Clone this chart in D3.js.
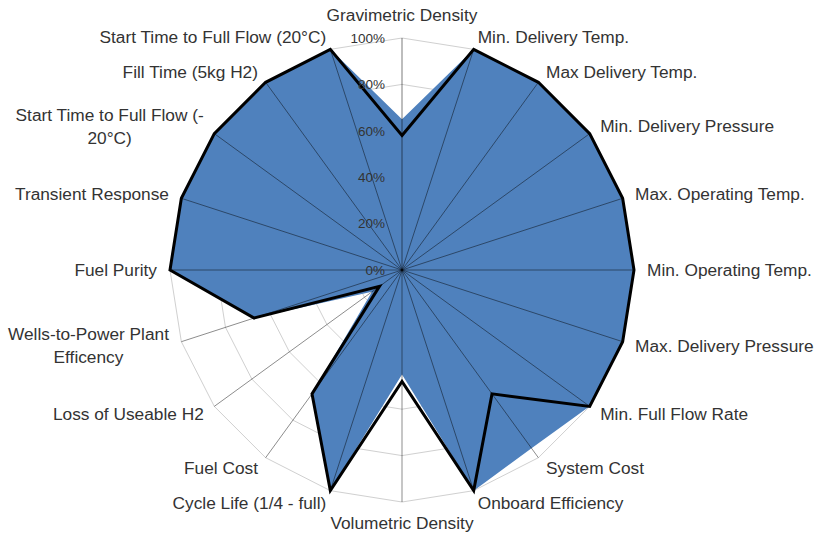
<!DOCTYPE html>
<html>
<head>
<meta charset="utf-8">
<script src="https://cdn.jsdelivr.net/npm/d3@7"></script>
<style>
  html, body { margin: 0; padding: 0; background: #fff; }
  svg { display: block; }
</style>
</head>
<body>
<svg id="chart" width="815" height="535"></svg>
<script>
const categories = [
  "Gravimetric Density",
  "Min. Delivery Temp.",
  "Max Delivery Temp.",
  "Min. Delivery Pressure",
  "Max. Operating Temp.",
  "Min. Operating Temp.",
  "Max. Delivery Pressure",
  "Min. Full Flow Rate",
  "System Cost",
  "Onboard Efficiency",
  "Volumetric Density",
  "Cycle Life (1/4 - full)",
  "Fuel Cost",
  "Loss of Useable H2",
  "Wells-to-Power Plant\nEfficency",
  "Fuel Purity",
  "Transient Response",
  "Start Time to Full Flow (-\n20°C)",
  "Fill Time (5kg H2)",
  "Start Time to Full Flow (20°C)"
];
const targetValues = [0.65, 1, 1, 1, 1, 1, 1, 1, 0.95, 1, 0.45, 1, 0.66, 0.16, 0.67, 1, 1, 1, 1, 1];
const statusValues = [0.58, 1, 1, 1, 1, 1, 1, 1, 0.66, 1, 0.48, 1, 0.66, 0.12, 0.67, 1, 1, 1, 1, 1];
const tickValues = [0, 0.2, 0.4, 0.6, 0.8, 1.0];
const tickLabels = ["0%", "20%", "40%", "60%", "80%", "100%"];

const svg = d3.select("#chart");
const cx = 402, cy = 270;
const r = d3.scaleLinear().domain([0, 1]).range([0, 232]);
const angle = d3.scaleLinear().domain([0, categories.length]).range([0, 2 * Math.PI]);
const pt = (i, v) => [cx + r(v) * Math.sin(angle(i)), cy - r(v) * Math.cos(angle(i))];

const font = "'Liberation Sans', Arial, sans-serif";

// web rings
const g = svg.append("g");
tickValues.filter(t => t > 0).forEach(t => {
  const pts = categories.map((c, i) => pt(i, t));
  g.append("polygon")
    .attr("points", pts.map(p => p.join(",")).join(" "))
    .attr("fill", "none")
    .attr("stroke", "#d0d0d0")
    .attr("stroke-width", 1);
});

// filled series
const radial = d3.lineRadial()
  .angle((d, i) => angle(i))
  .radius(d => r(d))
  .curve(d3.curveLinearClosed);

g.append("path")
  .attr("transform", `translate(${cx},${cy})`)
  .attr("d", radial(targetValues))
  .attr("fill", "#4F81BD")
  .attr("stroke", "none");

// spokes
categories.forEach((c, i) => {
  const p = pt(i, 1);
  g.append("line")
    .attr("x1", cx).attr("y1", cy)
    .attr("x2", p[0]).attr("y2", p[1])
    .attr("stroke", "#000")
    .attr("stroke-opacity", i === 0 ? 0.4 : 0.45)
    .attr("stroke-width", i === 0 ? 1.3 : 1);
});

// line series
g.append("path")
  .attr("transform", `translate(${cx},${cy})`)
  .attr("d", radial(statusValues))
  .attr("fill", "none")
  .attr("stroke", "#000")
  .attr("stroke-width", 3)
  .attr("stroke-linejoin", "miter");

// tick labels
tickValues.forEach((t, k) => {
  g.append("text")
    .attr("x", cx - 17)
    .attr("y", cy - r(t))
    .attr("dy", "0.35em")
    .attr("text-anchor", "end")
    .attr("font-family", font)
    .attr("font-size", 13.5)
    .attr("fill", "#333")
    .text(tickLabels[k]);
});

// category labels
const R = 245;
categories.forEach((c, i) => {
  const a = angle(i);
  const s = Math.sin(a), co = Math.cos(a);
  let x = cx + R * s, y = cy - R * co;
  const lines = c.split("\n");
  let anchor = "middle";
  if (s > 0.01) anchor = "start";
  else if (s < -0.01) anchor = "end";
  if (Math.abs(s) <= 0.01) y += co > 0 ? -10 : 8;
  const lh = 23;
  const t = g.append("text")
    .attr("font-family", font)
    .attr("font-size", 17.3)
    .attr("fill", "#333");
  lines.forEach((ln, j) => {
    t.append("tspan")
      .attr("x", x)
      .attr("y", y + (j - (lines.length - 1) / 2) * lh)
      .attr("dy", "0.35em")
      .text(ln);
  });
  if (lines.length > 1) {
    let maxW = 0;
    t.selectAll("tspan").each(function () { maxW = Math.max(maxW, this.getComputedTextLength()); });
    const mid = anchor === "end" ? x - maxW / 2 : anchor === "start" ? x + maxW / 2 : x;
    t.attr("text-anchor", "middle");
    t.selectAll("tspan").attr("x", mid);
  } else {
    t.attr("text-anchor", anchor);
  }
});
</script>
</body>
</html>
